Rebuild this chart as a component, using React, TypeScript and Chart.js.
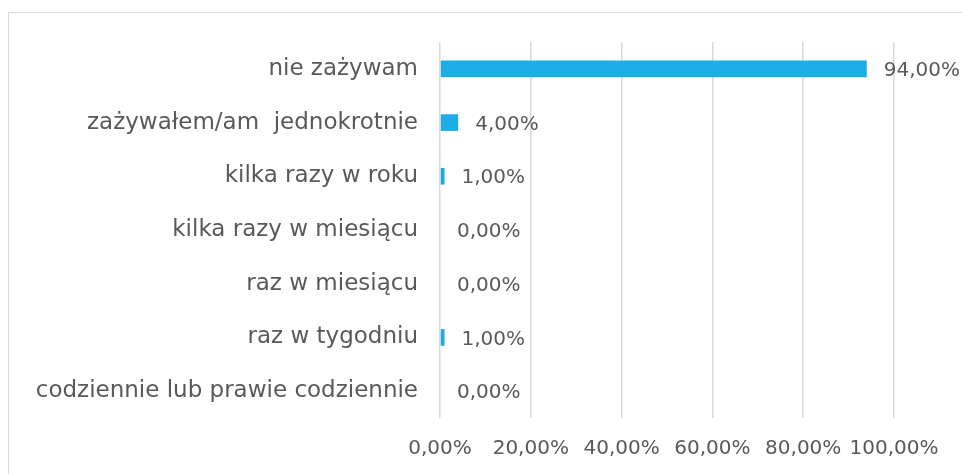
import React, { useEffect, useRef } from "react";
import { Chart, registerables } from "chart.js";

Chart.register(...registerables);

const categories = [
  "nie zażywam",
  "zażywałem/am  jednokrotnie",
  "kilka razy w roku",
  "kilka razy w miesiącu",
  "raz w miesiącu",
  "raz w tygodniu",
  "codziennie lub prawie codziennie",
];
const values = [94, 4, 1, 0, 0, 1, 0];
const xTickMin = 0;
const xTickMax = 100;
const xTickStep = 20;

const FONT = "'DejaVu Sans', sans-serif";
const TEXT = "#595959";
const BAR = "#1DACE3";

const fmt = (v: number) => v.toFixed(2).replace(".", ",") + "%";

const labelPlugin = {
  id: "barLabels",
  afterDatasetsDraw(chart: any) {
    const ctx = chart.ctx;
    const meta = chart.getDatasetMeta(0);
    ctx.save();
    ctx.font = `20px ${FONT}`;
    ctx.fillStyle = TEXT;
    ctx.textAlign = "left";
    ctx.textBaseline = "middle";
    meta.data.forEach((el: any, i: number) => {
      ctx.fillText(fmt(values[i]), el.x + 17, el.y + 2);
    });
    ctx.restore();
  },
};

export default function App() {
  const ref = useRef<HTMLCanvasElement>(null);
  useEffect(() => {
    if (!ref.current) return;
    const chart = new Chart(ref.current, {
      type: "bar",
      data: {
        labels: categories,
        datasets: [
          {
            data: values,
            backgroundColor: BAR,
            borderWidth: 0,
            categoryPercentage: 1,
            barPercentage: 0.31,
          },
        ],
      },
      options: {
        indexAxis: "y",
        animation: false,
        responsive: false,
        maintainAspectRatio: false,
        layout: { padding: { top: 42, right: 68, left: 0, bottom: 0 } },
        plugins: { legend: { display: false }, tooltip: { enabled: false } },
        scales: {
          x: {
            min: xTickMin,
            max: xTickMax,
            ticks: {
              stepSize: xTickStep,
              callback: (v: any) => fmt(Number(v)),
              color: TEXT,
              font: { family: FONT, size: 20 },
              padding: 19,
              maxRotation: 0,
              autoSkip: false,
            },
            grid: { color: "#d9d9d9", lineWidth: 1.5, drawTicks: false },
            border: { display: false },
            afterFit: (s: any) => {
              s.height = 56;
            },
          },
          y: {
            ticks: {
              color: TEXT,
              font: { family: FONT, size: 23 },
              padding: 22,
              autoSkip: false,
            },
            grid: { display: false, drawTicks: false },
            border: { display: false },
            afterFit: (s: any) => {
              s.width = 440;
            },
          },
        },
      },
      plugins: [labelPlugin],
    });
    return () => chart.destroy();
  }, []);
  return (
    <div style={{ position: "fixed", left: 0, top: 0, width: 962, height: 474, background: "#fff", overflow: "hidden" }}>
      <div
        style={{
          position: "absolute",
          left: 8,
          top: 12,
          width: 1000,
          height: 1000,
          border: "1px solid #d9d9d9",
        }}
      />
      <canvas ref={ref} width={962} height={474} style={{ position: "absolute", left: 0, top: 0, width: 962, height: 474 }} />
    </div>
  );
}
